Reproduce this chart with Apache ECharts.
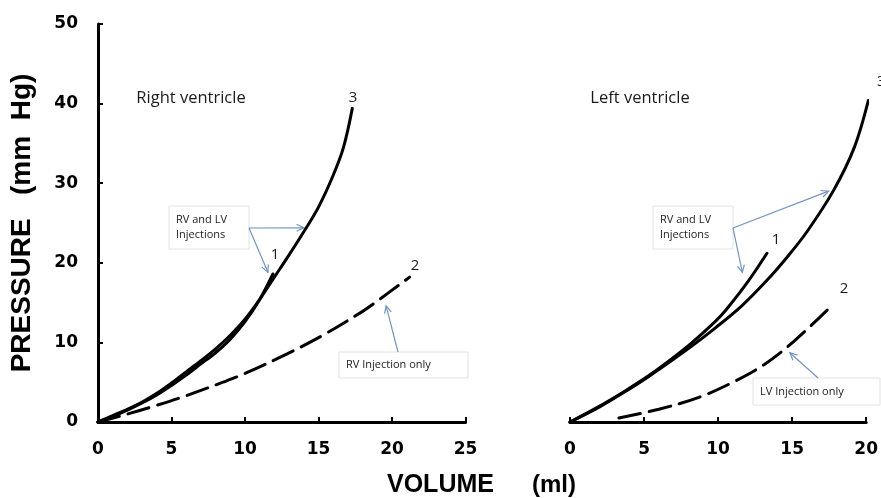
<!DOCTYPE html>
<html>
<head>
<meta charset="utf-8">
<script src="https://cdn.jsdelivr.net/npm/echarts@6/dist/echarts.min.js"></script>
<style>html,body{margin:0;padding:0;background:#fff}#c{width:881px;height:498px}</style>
</head>
<body>
<div id="c"></div>
<script>
// ---- Data ----
// Right ventricle
const rvX3 = [0, 1, 2, 3, 4, 5, 6, 7, 8, 9, 10, 11, 12, 13, 14, 15, 16, 16.7, 17.3];
const rvY3 = [0, 0.8, 1.6, 2.5, 3.6, 4.9, 6.3, 7.7, 9.2, 10.9, 12.9, 15.4, 18.2, 21.0, 23.9, 27.0, 31.0, 34.5, 39.4];
const rvX1 = [0, 1, 2, 3, 4, 5, 6, 7, 8, 9, 10, 11, 11.9];
const rvY1 = [0, 0.7, 1.5, 2.4, 3.4, 4.6, 5.9, 7.3, 8.7, 10.4, 12.6, 15.4, 18.6];
const rvX2 = [0, 2, 4, 6, 8.5, 10, 12.9, 15.3, 18, 18.7, 21.2];
const rvY2 = [0, 1.0, 2.1, 3.3, 5.0, 6.1, 8.6, 10.9, 13.9, 14.8, 18.2];
// Left ventricle
const lvX3 = [0, 2, 3.8, 5.3, 6.7, 8.2, 9.8, 11.6, 13.3, 14.7, 16, 17.8, 19.2, 20.15];
const lvY3 = [0, 1.9, 3.9, 5.7, 7.5, 9.5, 11.8, 14.6, 17.8, 20.8, 23.9, 29.1, 34.5, 40.4];
const lvX1 = [0, 2, 3.8, 5.3, 6.7, 8.2, 9.8, 10.5, 12, 13.3];
const lvY1 = [0, 2.0, 4.0, 5.8, 7.7, 9.9, 12.6, 14.0, 17.6, 21.2];
const lvX2 = [3.3, 6, 8.7, 11, 13.1, 15.1, 17.5];
const lvY2 = [0.5, 1.6, 3.1, 5.0, 7.2, 10.1, 14.3];

// annotation arrow tips (data coordinates)
const rvTipCurve3 = [14.0, 24.4];
const rvTipCurve1 = [11.56, 18.8];
const rvTipCurve2 = [19.6, 14.6];
const lvTipCurve3 = [17.46, 29.0];
const lvTipCurve1 = [11.64, 18.8];
const lvTipCurve2 = [14.85, 8.7];

const pairs = (xs, ys) => xs.map((x, i) => [x, ys[i]]);

const chart = echarts.init(document.getElementById('c'));

const tickFont = {fontFamily: 'DejaVu Sans', fontWeight: 'bold', fontSize: 17, color: '#000'};
function xAxisCfg(grid, max) {
  return {
    gridIndex: grid, type: 'value', min: 0, max: max, interval: 5,
    axisLine: {show: true, onZero: false, lineStyle: {color: '#000', width: 3}},
    axisTick: {show: true, inside: true, length: 5, lineStyle: {color: '#000', width: 2}},
    splitLine: {show: false},
    axisLabel: Object.assign({margin: 19}, tickFont)
  };
}
function lineSeries(xi, data, dashed) {
  return {
    type: 'line', xAxisIndex: xi, yAxisIndex: xi, data: data,
    smooth: 0.35, symbol: 'none', clip: false,
    lineStyle: {color: '#000', width: 3, type: dashed ? [22, 9] : 'solid', cap: 'round'},
    silent: true
  };
}

chart.setOption({
  animation: false,
  grid: [
    {left: 98, top: 24, width: 367.5, height: 398},
    {left: 570, top: 24, width: 299, height: 398}
  ],
  xAxis: [xAxisCfg(0, 25), xAxisCfg(1, 20)],
  yAxis: [
    {
      gridIndex: 0, type: 'value', min: 0, max: 50, interval: 10,
      axisLine: {show: true, lineStyle: {color: '#000', width: 3}},
      axisTick: {show: true, inside: true, length: 5, lineStyle: {color: '#000', width: 2}},
      splitLine: {show: false},
      axisLabel: Object.assign({margin: 20}, tickFont),
      name: 'PRESSURE   (mm  Hg)', nameLocation: 'middle', nameGap: 62, nameRotate: 90,
      nameTextStyle: {fontFamily: 'Liberation Sans', fontWeight: 'bold', fontSize: 28, color: '#000'}
    },
    {gridIndex: 1, type: 'value', min: 0, max: 50, interval: 10, show: false}
  ],
  series: [
    lineSeries(0, pairs(rvX3, rvY3), false),
    lineSeries(0, pairs(rvX1, rvY1), false),
    lineSeries(0, pairs(rvX2, rvY2), true),
    lineSeries(1, pairs(lvX3, lvY3), false),
    lineSeries(1, pairs(lvX1, lvY1), false),
    lineSeries(1, pairs(lvX2, lvY2), true)
  ]
});

// ---- annotations ----
const ARROW = '#7195c4';
const px = (g, p) => chart.convertToPixel({gridIndex: g}, p);
const els = [];
function label(text, x, y, size, opts) {
  els.push({type: 'text', x: x, y: y, silent: true,
    style: Object.assign({text: text, fontFamily: 'Open Sans', fontSize: size || 15, fill: '#1a1a1a',
      align: 'center', verticalAlign: 'middle'}, opts || {})});
}
function box(x, y, w, h, lines) {
  els.push({type: 'rect', shape: {x: x, y: y, width: w, height: h}, silent: true,
    style: {fill: '#fff', stroke: '#e2e2e2', lineWidth: 1}});
  els.push({type: 'text', x: x + 7, y: y + h / 2, silent: true,
    style: {text: lines, fontFamily: 'Open Sans', fontSize: 11, fill: '#222', lineHeight: 15,
      align: 'left', verticalAlign: 'middle'}});
}
function arrow(from, to) {
  els.push({type: 'line', shape: {x1: from[0], y1: from[1], x2: to[0], y2: to[1]}, silent: true,
    style: {stroke: ARROW, lineWidth: 1.2}});
  const a = Math.atan2(to[1] - from[1], to[0] - from[0]);
  const L = 8, s = 0.45;
  els.push({type: 'polyline', silent: true,
    shape: {points: [
      [to[0] - L * Math.cos(a - s), to[1] - L * Math.sin(a - s)],
      to,
      [to[0] - L * Math.cos(a + s), to[1] - L * Math.sin(a + s)]
    ]},
    style: {stroke: ARROW, lineWidth: 1.2, fill: null}});
}

label('Right ventricle', 191, 98, 16.5);
label('Left ventricle', 640, 98, 16.5);
label('3', 353, 98, 15);
label('3', 877, 82, 15, {align: 'left'});
label('1', 275, 255, 15);
label('2', 415, 266, 15);
label('1', 776, 240, 15);
label('2', 844, 289, 15);

box(169, 206, 80, 43, 'RV and LV\nInjections');
box(653, 206, 80, 43, 'RV and LV\nInjections');
box(339, 352, 129, 26, 'RV Injection only');
box(753, 378, 127, 27, 'LV Injection only');

arrow([249, 228], px(0, rvTipCurve3));
arrow([249, 228], px(0, rvTipCurve1));
arrow([398, 352], px(0, rvTipCurve2));
arrow([733, 228], px(1, lvTipCurve3));
arrow([733, 228], px(1, lvTipCurve1));
arrow([818, 378], px(1, lvTipCurve2));

els.push({type: 'text', x: 387, y: 485, silent: true,
  style: {text: 'VOLUME', fontFamily: 'Liberation Sans', fontWeight: 'bold', fontSize: 25, fill: '#000',
    align: 'left', verticalAlign: 'middle'}});
els.push({type: 'text', x: 532, y: 485, silent: true,
  style: {text: '(ml)', fontFamily: 'Liberation Sans', fontWeight: 'bold', fontSize: 24, fill: '#000',
    align: 'left', verticalAlign: 'middle'}});

chart.setOption({graphic: els});
</script>
</body>
</html>
